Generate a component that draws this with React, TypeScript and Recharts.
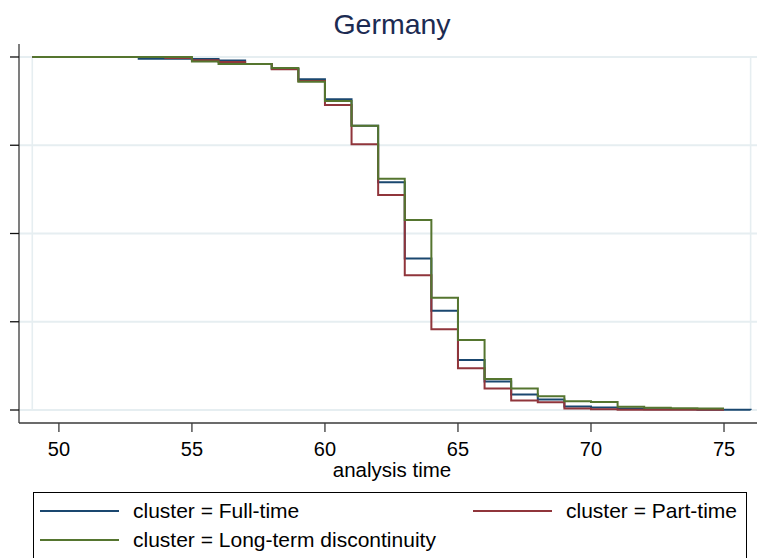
import { LineChart, Line, XAxis, YAxis, ReferenceLine, Legend, Customized } from 'recharts'

const FONT = "'Liberation Sans', Arial, Helvetica, sans-serif"

// Kaplan-Meier survivor estimates by age (step after each age)
const ages = [49, 50, 51, 52, 53, 54, 55, 56, 57, 58, 59, 60, 61, 62, 63, 64, 65, 66, 67, 68, 69, 70, 71, 72, 73, 74, 75, 76]
const fullTime = [1, 1, 1, 1, 0.995, 0.995, 0.994, 0.99, 0.98, 0.967, 0.937, 0.88, 0.805, 0.645, 0.429, 0.281, 0.142, 0.081, 0.044, 0.03, 0.01, 0.007, 0.004, 0.002, 0.002, 0.001, 0.0005, 0]
const partTime = [1, 1, 1, 1, 1, 0.997, 0.991, 0.986, 0.98, 0.965, 0.932, 0.864, 0.753, 0.609, 0.382, 0.229, 0.118, 0.061, 0.027, 0.022, 0.004, 0.002, 0.001, 0.001, 0.001, 0.001, 0.001]
const discontinuity = [1, 1, 1, 1, 1, 1, 0.987, 0.98, 0.98, 0.969, 0.93, 0.875, 0.805, 0.655, 0.538, 0.318, 0.198, 0.088, 0.061, 0.039, 0.025, 0.023, 0.0095, 0.0066, 0.005, 0.004, 0.004]

const xTicks = [50, 55, 60, 65, 70, 75]
const yTicks = [0, 0.25, 0.5, 0.75, 1]

const series = [
  { key: 'fullTime', name: 'cluster = Full-time', color: '#1a476f' },
  { key: 'partTime', name: 'cluster = Part-time', color: '#90353b' },
  { key: 'discontinuity', name: 'cluster = Long-term discontinuity', color: '#55752f' },
]

const data = ages.map((age, i) => ({
  age,
  fullTime: fullTime[i],
  partTime: partTime[i],
  discontinuity: discontinuity[i],
}))

const GRID = '#e6eef1'
const AXIS = '#3a3a3a'

const Title = () => (
  <text x={392} y={34} textAnchor="middle" fontFamily={FONT} fontSize={28.5} fill="#1c2b52">
    Germany
  </text>
)

// y axis keeps its tick marks but shows no numbers
const NoLabel = () => <g />

// legend slots: [row, col]
const slots = [
  [0, 0],
  [0, 1],
  [1, 0],
]

const KeyBox = () => (
  <div
    style={{
      width: 714,
      height: 72,
      border: '1px solid #000',
      boxSizing: 'border-box',
      background: '#fff',
    }}
  >
    <svg width={712} height={70} style={{ display: 'block' }}>
      {series.map((s, i) => {
        const [row, col] = slots[i]
        const x0 = col === 0 ? 6 : 439
        const y = 18 + row * 29
        return (
          <g key={s.key}>
            <line x1={x0} x2={x0 + 79} y1={y} y2={y} stroke={s.color} strokeWidth={2} />
            <text x={x0 + 93} y={y + 7} fontFamily={FONT} fontSize={21} fill="#000">
              {s.name}
            </text>
          </g>
        )
      })}
    </svg>
  </div>
)

export default function App() {
  return (
    <div style={{ position: 'absolute', left: 0, top: 0, width: 758, height: 558, background: '#fff' }}>
      <LineChart width={758} height={558} data={data} margin={{ top: 44, right: 1, bottom: 0, left: 0 }}>
        {yTicks.map((v) => (
          <ReferenceLine key={v} y={v} stroke={GRID} strokeWidth={1.8} />
        ))}
        <ReferenceLine segment={[{ x: 49, y: 0 }, { x: 49, y: 1 }]} stroke={GRID} strokeWidth={1.6} />
        <ReferenceLine segment={[{ x: 76, y: 0 }, { x: 76, y: 1 }]} stroke={GRID} strokeWidth={1.6} />
        <XAxis
          dataKey="age"
          type="number"
          domain={[48.5, 76.24]}
          ticks={xTicks}
          allowDataOverflow
          height={135}
          tickSize={9}
          tickMargin={10}
          stroke={AXIS}
          strokeWidth={1.3}
          tick={{ fontSize: 20, fill: '#000', fontFamily: FONT }}
          label={{ value: 'analysis time', position: 'insideTop', offset: 39, dx: 4, fontSize: 20.5, fill: '#000', fontFamily: FONT }}
        />
        <YAxis
          type="number"
          domain={[-0.0368, 1.0368]}
          ticks={yTicks}
          allowDataOverflow
          width={19}
          tickSize={9}
          tick={NoLabel}
          tickLine={{ stroke: '#111', strokeWidth: 1.3 }}
          stroke={AXIS}
          strokeWidth={1.3}
        />
        {series.map((s) => (
          <Line
            key={s.key}
            type="stepAfter"
            dataKey={s.key}
            name={s.name}
            stroke={s.color}
            strokeWidth={2}
            dot={false}
            activeDot={false}
            isAnimationActive={false}
          />
        ))}
        <Legend
          layout="horizontal"
          align="center"
          verticalAlign="middle"
          wrapperStyle={{ left: 33, top: 492, width: 714 }}
          content={<KeyBox />}
        />
        <Customized component={Title} />
      </LineChart>
    </div>
  )
}
